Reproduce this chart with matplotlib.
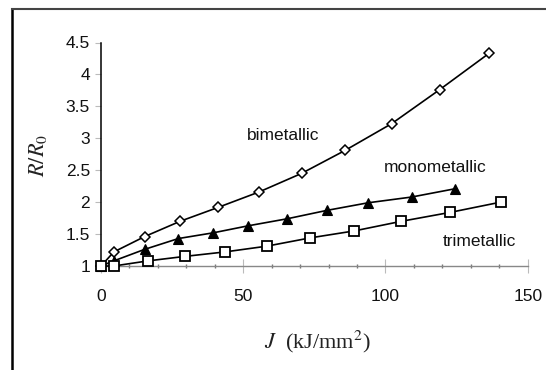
import matplotlib
matplotlib.use('Agg')
import matplotlib.pyplot as plt
from matplotlib.lines import Line2D
from matplotlib.ticker import MultipleLocator

# Resistance ratio vs. energy density for three coatings
bi_x = [0, 4.5, 15.3, 27.8, 41.3, 55.6, 70.5, 85.8, 102.2, 119.0, 136.4]
bi_y = [1.0, 1.22, 1.46, 1.70, 1.92, 2.16, 2.45, 2.81, 3.23, 3.76, 4.33]

mono_x = [0, 4.5, 15.3, 27.2, 39.5, 51.8, 65.5, 79.3, 93.9, 109.2, 124.5]
mono_y = [1.0, 1.08, 1.26, 1.43, 1.52, 1.63, 1.74, 1.87, 1.99, 2.08, 2.21]

tri_x = [0, 4.5, 16.5, 29.4, 43.5, 58.2, 73.5, 89.1, 105.6, 122.8, 140.5]
tri_y = [1.0, 1.0, 1.08, 1.15, 1.22, 1.31, 1.44, 1.55, 1.70, 1.84, 2.00]

x_ticks = [0, 50, 100, 150]
y_ticks = [1, 1.5, 2, 2.5, 3, 3.5, 4, 4.5]
y_tick_labels = ['1', '1.5', '2', '2.5', '3', '3.5', '4', '4.5']

plt.rcParams['font.family'] = ['Liberation Sans', 'DejaVu Sans']
plt.rcParams['mathtext.fontset'] = 'stix'

W, H = 546, 370
fig = plt.figure(figsize=(W / 100, H / 100), dpi=100)
fig.patch.set_facecolor('white')

# outer frame (left and top edges only)
fig.add_artist(Line2D([11.7 / W, 11.7 / W], [0, 1 - 9.3 / H], color='black', lw=1.8,
                      transform=fig.transFigure))
fig.add_artist(Line2D([11.7 / W, 1], [1 - 9.3 / H, 1 - 9.3 / H], color='#444444', lw=1.5,
                      transform=fig.transFigure))

left, right, top, bottom = 101, 527.7, 42.5, 266
ax = fig.add_axes([left / W, 1 - bottom / H, (right - left) / W, (bottom - top) / H])

kw = dict(color='black', lw=1.2, clip_on=False, zorder=3)
ax.plot(bi_x, bi_y, marker='D', ms=5.0, mfc='white', mec='black', mew=1.1, **kw)
ax.plot(mono_x, mono_y, marker='^', ms=7, mfc='black', mec='black', mew=0.8, **kw)
ax.plot(tri_x, tri_y, marker='s', ms=6.6, mfc='white', mec='black', mew=1.3, **kw)

ax.set_xlim(0, 150)
ax.set_ylim(1, 4.5)

for s in ['top', 'right']:
    ax.spines[s].set_visible(False)
ax.spines['left'].set_color('black')
ax.spines['left'].set_linewidth(1.1)
ax.spines['bottom'].set_color('#888888')
ax.spines['bottom'].set_linewidth(1.0)

ax.set_xticks(x_ticks)
ax.xaxis.set_minor_locator(MultipleLocator(10))
ax.set_yticks(y_ticks)
ax.set_yticklabels(y_tick_labels)

ax.tick_params(axis='x', which='major', direction='inout', length=9.5, width=0.8,
               color='#bbbbbb', pad=12, labelsize=12.5, labelcolor='#111111')
ax.tick_params(axis='x', which='minor', direction='inout', length=2.5, width=1.0,
               color='#777777')
ax.tick_params(axis='y', which='major', direction='out', length=4, width=0.8,
               color='#bbbbbb', pad=4, labelsize=12.5, labelcolor='#111111')

ax.text(64.0, 3.05, 'bimetallic', ha='center', va='center', fontsize=12.5, color='#111111')
ax.text(117.6, 2.55, 'monometallic', ha='center', va='center', fontsize=12.5, color='#111111')
ax.text(132.9, 1.38, 'trimetallic', ha='center', va='center', fontsize=12.5, color='#111111')

fig.text(38 / W, 1 - 155 / H, r'$R/R_0$', rotation=90, ha='center', va='center',
         fontsize=16, color='#222222')
fig.text(317 / W, 1 - 342 / H, r'$J$  (kJ/mm$^2$)', ha='center', va='center',
         fontsize=16, color='#222222', family=['Liberation Serif', 'DejaVu Serif'])

fig.savefig('out.png', dpi=100, facecolor='white')
